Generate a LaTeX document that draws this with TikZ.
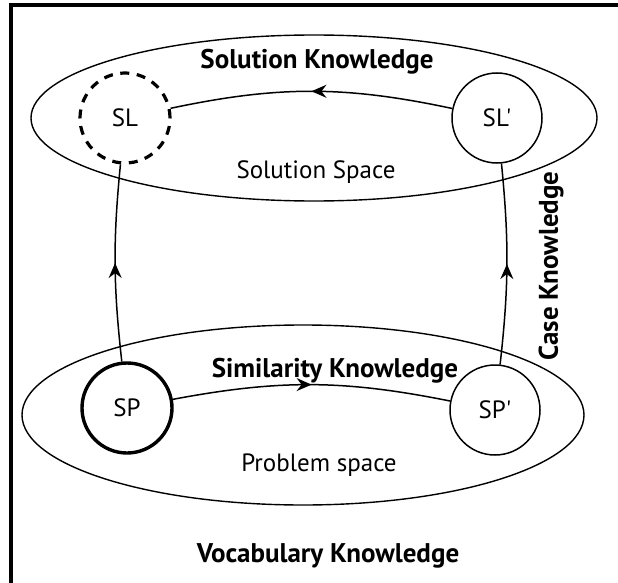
\documentclass[tikz,border=0pt]{standalone}
\usepackage{fontspec}
\setmainfont{PT Sans}
% state names keep a straight apostrophe
\newfontfamily\statefont{PT Sans}[Ligatures=TeXOff]
\usetikzlibrary{arrows.meta,decorations.markings,shapes.geometric}
\begin{document}
\begin{tikzpicture}[x=1pt,y=-1pt,
  state/.style={circle,draw,line width=1.5pt,minimum size=90pt,inner sep=0pt,font=\statefont\fontsize{25}{30}\selectfont},
  region/.style={ellipse,draw,line width=1.4pt,inner sep=0pt},
  heading/.style={font=\bfseries\fontsize{27}{30}\selectfont,inner sep=0pt},
  plain/.style={font=\fontsize{25}{30}\selectfont,inner sep=0pt},
  flow/.style={line width=1.5pt,postaction={decorate},
    decoration={markings,mark=at position 0.5 with {\arrow{Stealth[length=15pt,width=13pt,inset=5pt]}}}},
]
\useasboundingbox (0,0) rectangle (618,583);
% frame
\draw[line width=3.2pt] (11,583) -- (11,5) -- (618,5);

% knowledge regions
\node[region,minimum width=566pt,minimum height=166pt] (solreg) at (314,118) {};
\node[region,minimum width=562pt,minimum height=180pt] (probreg) at (303,415) {};

% states
\node[state,dash pattern=on 9pt off 7.6pt,line width=3.2pt] (sl) at (125,118) {SL};
\node[state] (slp) at (497,118) {SL'};
\node[state,line width=3.4pt] (sp) at (127,408) {SP};
\node[state] (spp) at (495,410) {SP'};

% labels
\node[heading] (solk) at (317,62) {Solution Knowledge};
\node[plain] (sols) at (316,172) {Solution Space};
\node[heading] (simk) at (335,371) {Similarity Knowledge};
\node[plain] (probs) at (319,465) {Problem space};
\node[heading] (vock) at (328,556) {Vocabulary Knowledge};
\node[heading,rotate=90] (casek) at (551,266) {Case Knowledge};

% transitions
\draw[flow] (slp) to[bend right=12] (sl);
\draw[flow] (sp) to[bend left=11] (spp);
\draw[flow] (sp) to[bend left=6] (sl);
\draw[flow] (spp) to[bend right=6] (slp);
\end{tikzpicture}
\end{document}
